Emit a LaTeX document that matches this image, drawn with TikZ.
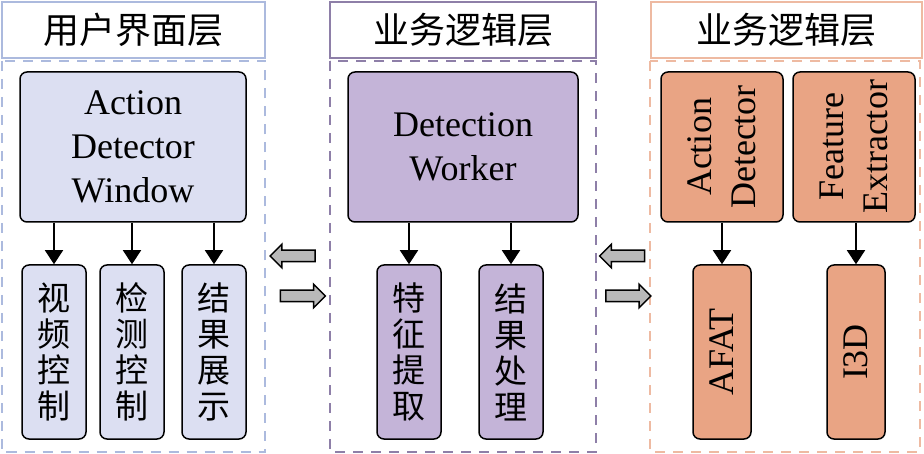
\documentclass[tikz,border=0pt]{standalone}
\usepackage{fontspec}
\setmainfont{Liberation Serif}
\newfontfamily\cjk{Noto Sans CJK SC}
\usetikzlibrary{arrows.meta,positioning,shapes.arrows}

\definecolor{uifill}{RGB}{220,223,242}
\definecolor{uiline}{RGB}{172,186,222}
\definecolor{bizfill}{RGB}{196,180,216}
\definecolor{bizline}{RGB}{142,127,168}
\definecolor{algfill}{RGB}{233,164,132}
\definecolor{algline}{RGB}{238,186,162}

\begin{document}
\begin{tikzpicture}[
                    x=1pt,
                    y=-1pt,
                    >={Triangle[length=14pt,width=18pt]},
                    header/.style={draw, line width=2pt, fill=white, inner sep=0pt,
                        minimum height=56pt, font=\cjk\fontsize{36}{38}\selectfont},
                    panel/.style={draw, line width=2pt, dash pattern=on 10pt off 8pt},
                    bigbox/.style={draw, line width=1.5pt, rounded corners=7pt,
                        align=center, inner sep=0pt, minimum height=150pt,
                        font=\fontsize{36}{44}\selectfont},
                    smallbox/.style={draw, line width=1.5pt, rounded corners=7pt,
                        align=center, inner sep=0pt, minimum width=64pt,
                        minimum height=174pt, font=\cjk\fontsize{33}{36}\selectfont},
                    flow/.style={->, line width=1.5pt},
                    swap/.style={single arrow, draw, fill=gray!55, line width=1.5pt,
                        inner sep=5pt, minimum height=45pt,
                        single arrow head extend=6pt}
                ]
                \useasboundingbox (0,0) rectangle (924,454);

                % three layers
                \node[header, draw=uiline, minimum width=263pt] (ui-head) at (133.5,30) {用户界面层} ;
                \draw[panel, draw=uiline] (1.5,61) rectangle (265,452) ;
                \node[header, draw=bizline, minimum width=266pt] (biz-head) at (463,30) {业务逻辑层} ;
                \draw[panel, draw=bizline] (330,61) rectangle (596,452) ;
                \node[header, draw=algline, minimum width=271pt] (alg-head) at (786,30) {业务逻辑层} ;
                \draw[panel, draw=algline] (650,61) rectangle (920,452) ;

                \begin{scope}[
                        every node/.style={fill=uifill}
                    ]
                    \node[bigbox, minimum width=226pt] (window) at (133,147) {Action\\Detector\\Window} ;
                    \node[smallbox] (video) at (54,352) {视\\频\\控\\制} ;
                    \node[smallbox] (detect) at (132,352) {检\\测\\控\\制} ;
                    \node[smallbox] (show) at (214,352) {结\\果\\展\\示} ;
                \end{scope}

                \begin{scope}[
                        every node/.style={fill=bizfill}
                    ]
                    \node[bigbox, minimum width=230pt] (worker) at (463,147) {Detection\\Worker} ;
                    \node[smallbox] (feature) at (409,352) {特\\征\\提\\取} ;
                    \node[smallbox] (result) at (511,352) {结\\果\\处\\理} ;
                \end{scope}

                \begin{scope}[
                        every node/.style={fill=algfill, rotate=90}
                    ]
                    \node[bigbox, minimum width=150pt, minimum height=122pt] (detector) at (722,147) {Action\\Detector} ;
                    \node[bigbox, minimum width=150pt, minimum height=122pt] (extractor) at (854,147) {Feature\\Extractor} ;
                    \node[smallbox, minimum width=174pt, minimum height=58pt, font=\fontsize{36}{44}\selectfont] (afat) at (722,352) {AFAT} ;
                    \node[smallbox, minimum width=174pt, minimum height=58pt, font=\fontsize{36}{44}\selectfont] (i3d) at (856,352) {I3D} ;
                \end{scope}

                \draw[flow] (video.north |- window.south) -- (video.north) ;
                \draw[flow] (detect.north |- window.south) -- (detect.north) ;
                \draw[flow] (show.north |- window.south) -- (show.north) ;
                \draw[flow] (feature.north |- worker.south) -- (feature.north) ;
                \draw[flow] (result.north |- worker.south) -- (result.north) ;
                \draw[flow] (afat.east |- detector.west) -- (afat.east) ;
                \draw[flow] (i3d.east |- extractor.west) -- (i3d.east) ;

                % exchange between layers
                \node[swap, shape border rotate=180] (ui-back) at (295.5,256) {} ;
                \node[swap] (ui-to) at (300,296) {} ;
                \node[swap, shape border rotate=180] (biz-back) at (625,256) {} ;
                \node[swap] (biz-to) at (625.5,296) {} ;
            \end{tikzpicture}
\end{document}
